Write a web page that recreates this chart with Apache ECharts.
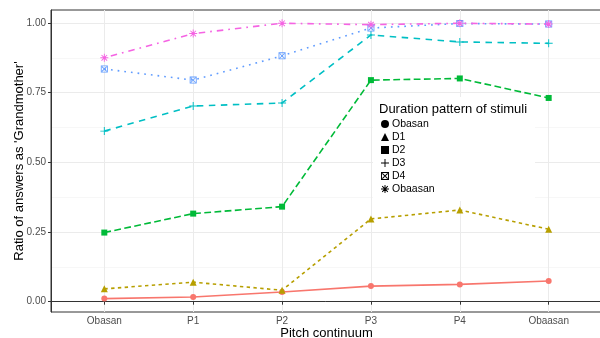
<!DOCTYPE html>
<html>
<head>
<meta charset="utf-8">
<script src="https://cdn.jsdelivr.net/npm/echarts@6/dist/echarts.min.js"></script>
<style>
  html, body { margin: 0; padding: 0; background: #fff; }
  #main { width: 600px; height: 338px; }
</style>
</head>
<body>
<div id="main"></div>
<script>
// pitch steps on the x axis
var categories = ['Obasan', 'P1', 'P2', 'P3', 'P4', 'Obaasan'];
var yTicks = [0, 0.25, 0.5, 0.75, 1];
var yMinor = [0.125, 0.375, 0.625, 0.875];

// ratio of 'Grandmother' answers, one array per duration pattern
var obasan = [0.011, 0.017, 0.035, 0.056, 0.062, 0.074];
var d1 = [0.046, 0.070, 0.041, 0.297, 0.329, 0.260];
var d2 = [0.248, 0.316, 0.341, 0.795, 0.801, 0.731];
var d3 = [0.612, 0.702, 0.713, 0.957, 0.932, 0.927];
var d4 = [0.835, 0.795, 0.882, 0.982, 0.998, 0.996];
var obaasan = [0.875, 0.962, 0.999, 0.994, 0.999, 0.996];

// ggplot-like shapes
var plusPath = 'path://M8.8,0H11.2V8.8H20V11.2H11.2V20H8.8V11.2H0V8.8H8.8Z';
var starPath = 'path://M8.8,0H11.2V8.8H20V11.2H11.2V20H8.8V11.2H0V8.8H8.8Z' +
  'M2.15,3.85L3.85,2.15L17.85,16.15L16.15,17.85Z' +
  'M16.15,2.15L17.85,3.85L3.85,17.85L2.15,16.15Z';
var boxXPath = 'path://M0,0H20V20H0Z M2.4,2.4V17.6H17.6V2.4Z' +
  'M2.4,4.1L4.1,2.4L17.6,15.9L15.9,17.6Z' +
  'M15.9,2.4L17.6,4.1L4.1,17.6L2.4,15.9Z';

var seriesDefs = [
  { name: 'Obasan', data: obasan, color: '#F8766D', symbol: 'circle', size: 6, dash: 'solid' },
  { name: 'D1', data: d1, color: '#B79F00', symbol: 'triangle', size: 7, dash: [3.4, 3.4] },
  { name: 'D2', data: d2, color: '#00BA38', symbol: 'rect', size: 6, dash: [6.8, 3.4] },
  { name: 'D3', data: d3, color: '#00BFC4', symbol: plusPath, size: 8, dash: [6.5, 5.5] },
  { name: 'D4', data: d4, color: '#619CFF', symbol: boxXPath, size: 7, dash: [1.7, 5] },
  { name: 'Obaasan', data: obaasan, color: '#F564E3', symbol: starPath, size: 8, dash: [1.7, 5, 6.5, 5] }
];

var chartDom = document.getElementById('main');
var myChart = echarts.init(chartDom, null, { renderer: 'canvas' });

var series = seriesDefs.map(function (s) {
  return {
    name: s.name,
    type: 'line',
    data: s.data.map(function (v, i) { return [i + 1, v]; }),
    symbol: s.symbol,
    symbolSize: s.size,
    showAllSymbol: true,
    itemStyle: { color: s.color },
    lineStyle: { color: s.color, width: 1.6, type: s.dash },
    emphasis: { disabled: true },
    animation: false
  };
});

var legendData = seriesDefs.map(function (s) {
  return { name: s.name, icon: s.symbol, itemStyle: { color: '#000', borderWidth: 0 } };
});

var option = {
  backgroundColor: '#fff',
  animation: false,
  textStyle: { fontFamily: 'Liberation Sans, Arial, sans-serif' },
  grid: {
    left: 51, right: -2, top: 10, bottom: 26,
    outerBoundsMode: 'none',
    containLabel: false,
    show: true, borderColor: '#333', borderWidth: 1, backgroundColor: '#fff'
  },
  xAxis: {
    type: 'value',
    min: 0.4,
    max: 6.6,
    name: 'Pitch continuum',
    nameLocation: 'middle',
    nameGap: 21,
    nameMoveOverlap: false,
    nameTextStyle: { color: '#000', fontSize: 13, verticalAlign: 'middle' },
    axisLine: { show: true, lineStyle: { color: '#333', width: 1 } },
    axisTick: { show: true, length: 3, customValues: [1, 2, 3, 4, 5, 6], lineStyle: { color: '#333' } },
    axisLabel: {
      customValues: [1, 2, 3, 4, 5, 6],
      margin: 4,
      color: '#4d4d4d',
      fontSize: 10,
      formatter: function (v) { return categories[Math.round(v) - 1]; }
    },
    splitLine: { show: true, lineStyle: { color: '#ebebeb', width: 1 } }
  },
  yAxis: [
    {
      type: 'value',
      min: -0.037,
      max: 1.0466,
      name: "Ratio of answers as 'Grandmother'",
      nameLocation: 'middle',
      nameGap: 32,
      nameMoveOverlap: false,
      nameTextStyle: { color: '#000', fontSize: 13, verticalAlign: 'middle' },
      axisLine: { show: true, lineStyle: { color: '#333', width: 1 } },
      axisTick: { show: true, length: 3, customValues: yTicks, lineStyle: { color: '#333' } },
      axisLabel: {
        customValues: yTicks,
        margin: 5,
        color: '#4d4d4d',
        fontSize: 10,
        formatter: function (v) { return v.toFixed(2); }
      },
      splitLine: { show: true, lineStyle: { color: '#ebebeb', width: 1 } }
    },
    {
      type: 'value',
      min: -0.037,
      max: 1.0466,
      position: 'left',
      axisLine: { show: false },
      axisTick: { show: false, customValues: yMinor },
      axisLabel: { show: false, customValues: yMinor },
      splitLine: { show: true, lineStyle: { color: '#f4f4f4', width: 0.7 } }
    }
  ],
  legend: {
    orient: 'vertical',
    left: 381,
    top: 118,
    padding: 0,
    itemWidth: 8,
    itemHeight: 8,
    itemGap: 1,
    selectedMode: false,
    data: legendData,
    textStyle: { color: '#000', fontSize: 10.5, lineHeight: 12, padding: [0, 0, 0, -2] }
  },
  graphic: [
    {
      type: 'rect',
      z: 3,
      shape: { x: 373, y: 97, width: 162, height: 104 },
      style: { fill: '#fff' }
    },
    {
      type: 'text',
      z: 5,
      left: 379,
      top: 103,
      style: { text: 'Duration pattern of stimuli', fill: '#000', fontSize: 13, fontFamily: 'Liberation Sans, Arial, sans-serif' }
    }
  ],
  series: series
};

option && myChart.setOption(option);
</script>
</body>
</html>
